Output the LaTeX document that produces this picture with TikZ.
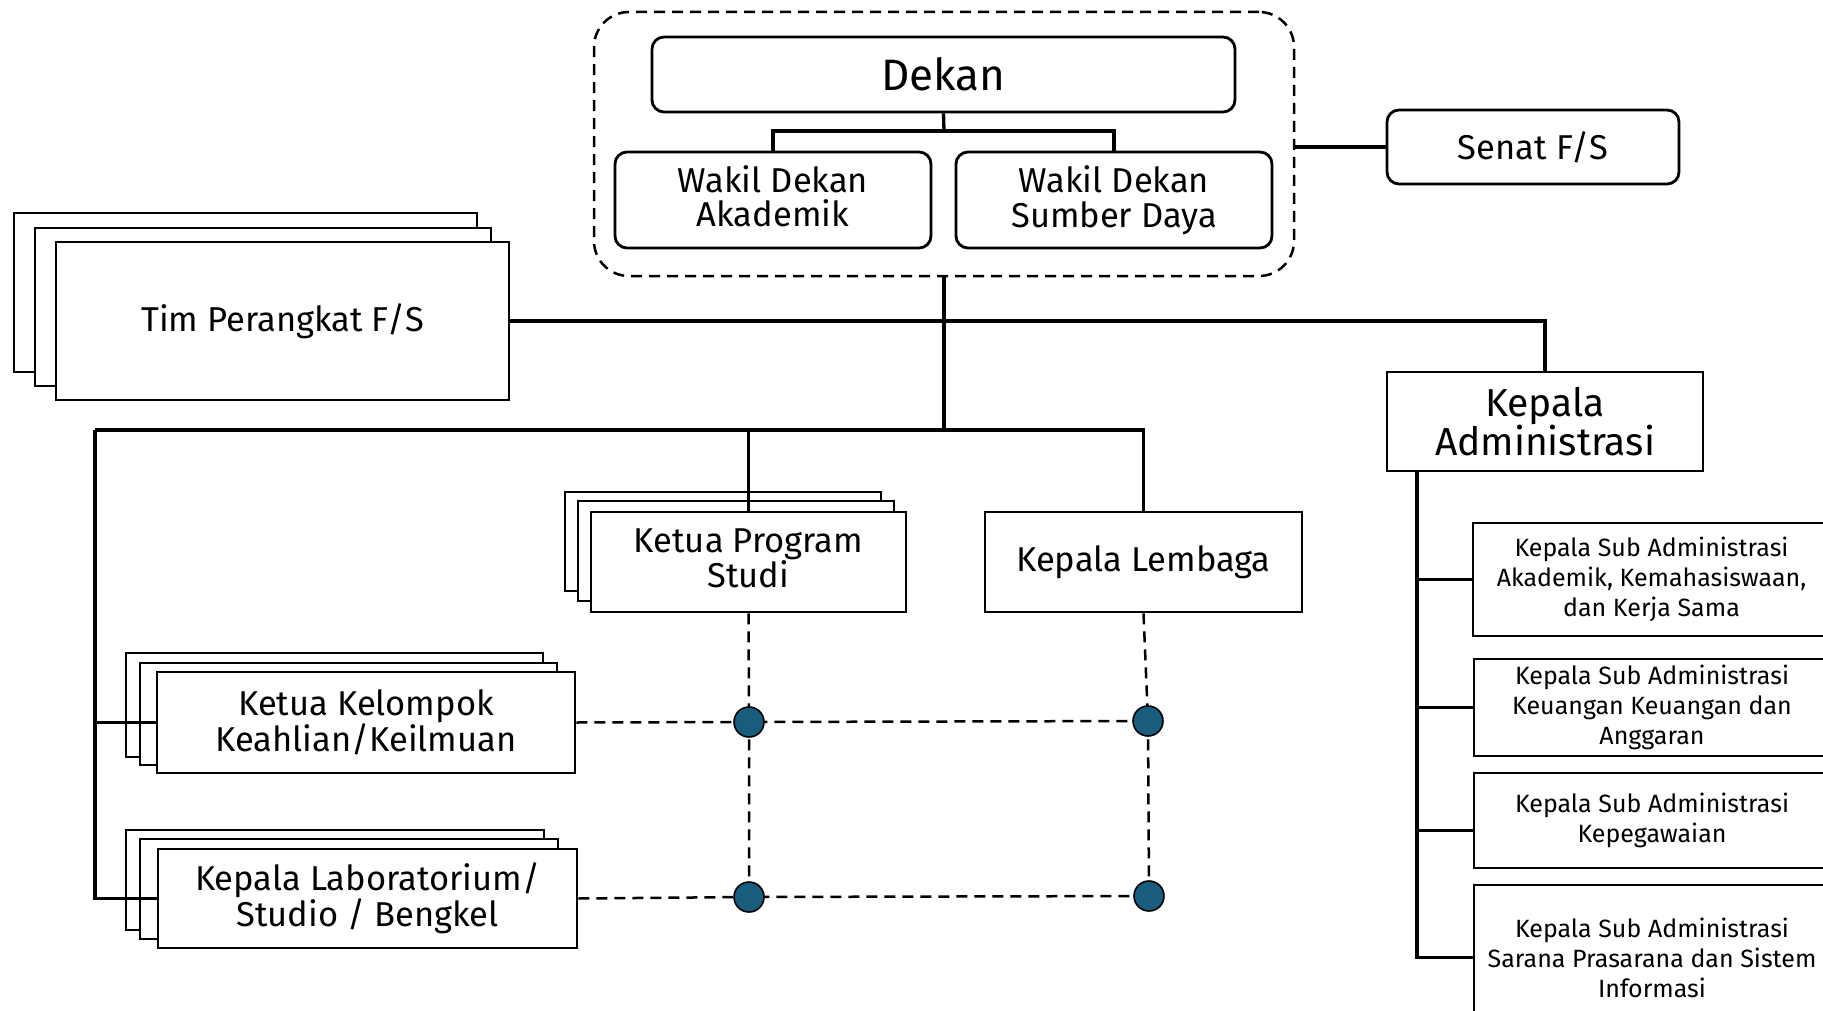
\documentclass[tikz,border=0pt]{standalone}
\usepackage{fontspec}
\setmainfont{Fira Sans}
\definecolor{dotblue}{RGB}{24,92,126}
\newcommand\mybox[7][]{%
  \node[box,#1,minimum width={(#5-#3)*1pt},minimum height={(#6-#4)*1pt}] (#2) at ({(#3+#5)/2},{(#4+#6)/2}) {#7};}
\begin{document}
\begin{tikzpicture}[x=1pt,y=-1pt,
  box/.style={draw=black,line width=2.8pt,fill=white,align=center,inner sep=0pt,font=\fontsize{34.5}{34.5}\selectfont},
  rbox/.style={rounded corners=12pt},
  subf/.style={font=\fontsize{25}{30}\selectfont},
  conn/.style={line width=3.3pt},
  trunk/.style={line width=3.8pt},
  dline/.style={line width=2.5pt,dash pattern=on 11pt off 7pt},
  dotn/.style={circle,fill=dotblue,draw=black,line width=1.6pt,minimum size=30pt,inner sep=0pt},
]
\useasboundingbox (0,0) rectangle (1823,1011);
\clip (0,0) rectangle (1823,1011);

% dashed group
\node[draw=black,line width=2.5pt,dash pattern=on 11pt off 7pt,rounded corners=35pt,minimum width=700pt,minimum height=264pt,inner sep=0pt] (dashbox) at (944,144) {};
\mybox[rbox,font=\fontsize{44}{44}\selectfont]{dekan}{652}{37}{1235}{112}{Dekan}
\mybox[rbox,text depth=8pt]{wda}{615}{152}{931}{248}{Wakil Dekan\\Akademik}
\mybox[rbox]{wds}{956}{152}{1272}{248}{Wakil Dekan\\Sumber Daya}
\mybox[rbox]{senat}{1387}{110}{1679}{184}{Senat F/S}

% Tim Perangkat stack
\mybox{timc}{14}{213}{477}{372}{}
\mybox{timb}{35}{228}{491}{386}{}
\mybox{tim}{56}{242}{509}{400}{Tim Perangkat F/S}

% Kepala Administrasi
\mybox[font=\fontsize{39}{36}\selectfont]{kadmin}{1387}{372}{1703}{471}{Kepala\\Administrasi}

% Ketua Program Studi stack
\mybox{kpsc}{565}{492}{881}{591}{}
\mybox{kpsb}{578}{501}{894}{601}{}
\mybox[text depth=8pt]{kps}{591}{512}{906}{612}{Ketua Program\\Studi}
\mybox{kl}{985}{512}{1302}{612}{Kepala Lembaga}

% Ketua Kelompok stack
\mybox{kkc}{126}{653}{543}{757}{}
\mybox{kkb}{140}{663}{557}{765}{}
\mybox{kk}{157}{672}{575}{773}{Ketua Kelompok\\Keahlian/Keilmuan}

% Kepala Lab stack
\mybox{labc}{126}{830}{544}{930}{}
\mybox{labb}{140}{839}{558}{939}{}
\mybox{lab}{158}{849}{577}{948}{Kepala Laboratorium/\\Studio / Bengkel}

% Sub administrasi
\mybox[subf]{sub1}{1473}{523}{1830}{636}{Kepala Sub Administrasi\\Akademik, Kemahasiswaan,\\dan Kerja Sama}
\mybox[subf]{sub2}{1474}{659}{1830}{756}{Kepala Sub Administrasi\\Keuangan Keuangan dan\\Anggaran}
\mybox[subf]{sub3}{1474}{773}{1830}{868}{Kepala Sub Administrasi\\Kepegawaian}
\mybox[subf]{sub4}{1474}{885}{1830}{1030}{Kepala Sub Administrasi\\Sarana Prasarana dan Sistem\\Informasi}

% coordinates
\coordinate (dj) at (944,131);
\coordinate (j2) at (944,430);
\coordinate (jl) at (95,430);
\coordinate (kat) at (1417,471);
\coordinate (d1) at (749,722);
\coordinate (d2) at (1148,721);
\coordinate (d3) at (749,897);
\coordinate (d4) at (1149,896);

% solid connectors
\draw[conn] (dekan.south) -- (dj);
\draw[conn] (wda.north) |- (dj) -| (wds.north);
\draw[conn] (dashbox.east |- senat.west) -- (senat.west);
\draw[trunk] (dashbox.south) -- (j2);
\draw[conn] (tim.east) -- (tim.east -| kadmin.north) -- (kadmin.north);
\draw[conn] (jl) -- (kl.north |- jl) -- (kl.north);
\draw[conn] (kps.north |- jl) -- (kps.north);
\draw[conn] (jl) |- (kk.west);
\draw[conn] (jl) |- (lab.west);
\draw[conn] (kat) |- (sub1.west);
\draw[conn] (kat) |- (sub2.west);
\draw[conn] (kat) |- ([yshift=-10pt]sub3.west);
\draw[conn] (kat) |- (sub4.west);

% dashed connectors
\draw[dline] (kk.east) -- (d1) -- (d2);
\draw[dline] (lab.east) -- (d3) -- (d4);
\draw[dline] (kps.south) -- (d1) -- (d3);
\draw[dline] (kl.south) -- (d2) -- (d4);
\node[dotn] (n1) at (d1) {};
\node[dotn] (n2) at (d2) {};
\node[dotn] (n3) at (d3) {};
\node[dotn] (n4) at (d4) {};
\end{tikzpicture}
\end{document}
